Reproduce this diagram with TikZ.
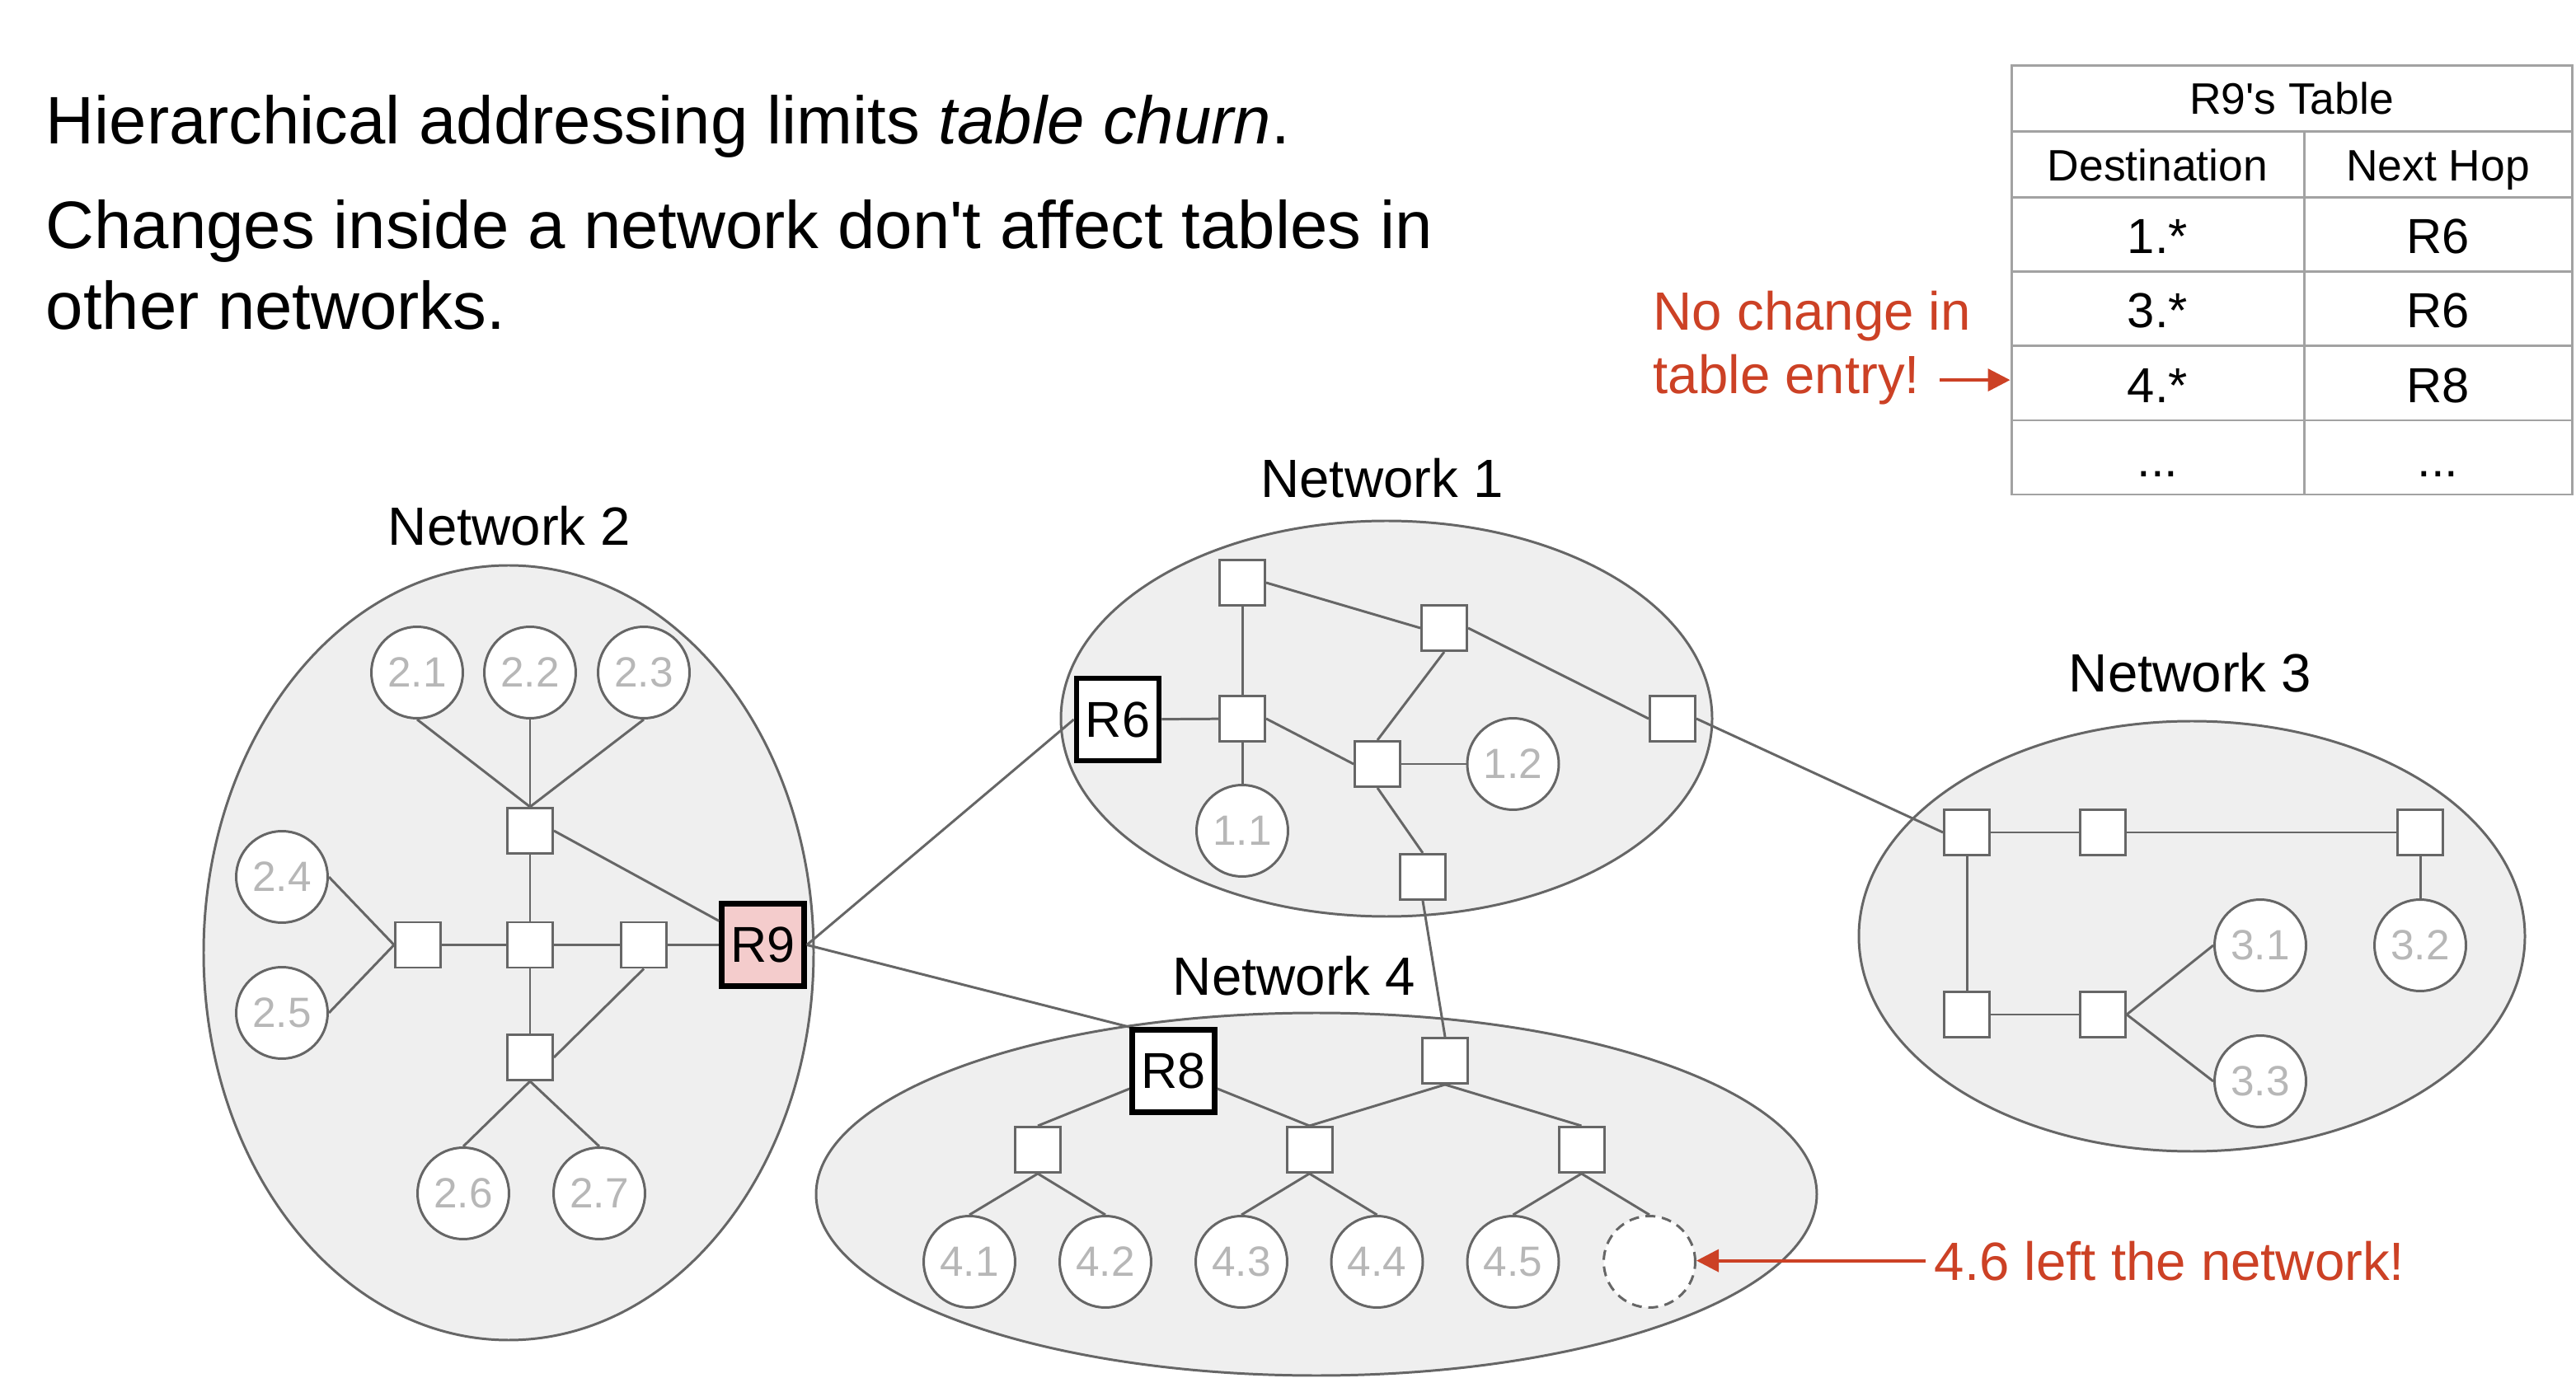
\documentclass[tikz,border=0pt]{standalone}
\usepackage{fontspec}
\setmainfont{Liberation Sans}
\usepackage{tikz}
\usetikzlibrary{positioning,arrows.meta}
\definecolor{netfill}{HTML}{EFEFEF}
\definecolor{wire}{HTML}{666666}
\definecolor{hostgray}{HTML}{B7B7B7}
\definecolor{rpink}{HTML}{F4CCCC}
\definecolor{tabgray}{HTML}{A2A2A2}
\definecolor{notered}{HTML}{CC4125}
\newcommand{\ptsize}[1]{\fontsize{#1}{#1}\selectfont}
\tikzstyle{net} = [draw=wire, fill=netfill, line width=0.85pt]
\tikzstyle{sw} = [draw=wire, fill=white, line width=0.85pt, minimum size=0.55cm, inner sep=0pt]
\tikzstyle{host} = [circle, draw=wire, fill=white, line width=0.85pt, minimum size=1.11cm, inner sep=0pt, text=hostgray, font=\ptsize{14.6}]
\tikzstyle{gone} = [host, dash pattern=on 0.12cm off 0.08cm]
\tikzstyle{router} = [draw=black, fill=white, line width=1.9pt, minimum size=1cm, inner sep=0pt, font=\ptsize{17.4}]
\tikzstyle{link} = [draw=wire, line width=0.85pt]
\tikzstyle{netname} = [anchor=base, inner sep=0pt, font=\ptsize{18.6}]
\tikzstyle{headline} = [anchor=base west, inner sep=0pt, font=\ptsize{23.2}]
\tikzstyle{notetext} = [anchor=base west, inner sep=0pt, text=notered, font=\ptsize{18.6}]
\tikzstyle{note} = [draw=notered, line width=1.1pt, -{Triangle[length=0.27cm,width=0.27cm]}]
\tikzstyle{tabline} = [draw=tabgray, line width=0.85pt]
\tikzstyle{cell} = [anchor=base, inner sep=0pt, font=\ptsize{17}]
\tikzstyle{headcell} = [anchor=base, inner sep=0pt, font=\ptsize{15.2}]

\begin{document}
\begin{tikzpicture}
    \useasboundingbox (0,0) rectangle (31.25,-16.72);
    \node[headline] (t1) at (0.55,-1.75) {Hierarchical addressing limits \textit{table churn}.};
    \node[headline] (t2) at (0.55,-3.015) {Changes inside a network don\textquotesingle t affect tables in};
    \node[headline] (t3) at (0.55,-4.00) {other networks.};

    \filldraw[net] (6.17,-11.56) ellipse (3.70 and 4.70);
    \filldraw[net] (16.82,-8.72) ellipse (3.95 and 2.40);
    \filldraw[net] (26.59,-11.36) ellipse (4.04 and 2.61);
    \filldraw[net] (15.97,-14.49) ellipse (6.07 and 2.20);
    \node[netname] (n2) at (6.18,-6.62) {Network 2};
    \node[netname] (n1) at (16.765,-6.04) {Network 1};
    \node[netname] (n3) at (26.57,-8.395) {Network 3};
    \node[netname] (n4) at (15.70,-12.07) {Network 4};

    \node[host] (h21) at (5.06,-8.16) {2.1};
    \node[host] (h22) at (6.43,-8.16) {2.2};
    \node[host] (h23) at (7.81,-8.16) {2.3};
    \node[host] (h24) at (3.42,-10.64) {2.4};
    \node[host] (h25) at (3.42,-12.29) {2.5};
    \node[host] (h26) at (5.62,-14.48) {2.6};
    \node[host] (h27) at (7.27,-14.48) {2.7};
    \node[sw] (s2t) at (6.43,-10.08) {};
    \node[sw] (s2l) at (5.07,-11.465) {};
    \node[sw] (s2c) at (6.43,-11.465) {};
    \node[sw] (s2r) at (7.81,-11.465) {};
    \node[sw] (s2b) at (6.43,-12.83) {};
    \node[router, fill=rpink] (R9) at (9.255,-11.465) {R9};

    \node[router] (R6) at (13.56,-8.73) {R6};
    \node[sw] (s1a) at (15.07,-7.07) {};
    \node[sw] (s1b) at (17.52,-7.62) {};
    \node[sw] (s1c) at (15.07,-8.72) {};
    \node[sw] (s1d) at (16.71,-9.27) {};
    \node[sw] (s1e) at (20.29,-8.72) {};
    \node[sw] (s1f) at (17.26,-10.64) {};
    \node[host] (h11) at (15.07,-10.08) {1.1};
    \node[host] (h12) at (18.355,-9.27) {1.2};

    \node[sw] (s3a) at (23.86,-10.10) {};
    \node[sw] (s3b) at (25.51,-10.10) {};
    \node[sw] (s3c) at (29.36,-10.10) {};
    \node[sw] (s3d) at (23.86,-12.31) {};
    \node[sw] (s3e) at (25.51,-12.31) {};
    \node[host] (h31) at (27.42,-11.47) {3.1};
    \node[host] (h32) at (29.36,-11.47) {3.2};
    \node[host] (h33) at (27.42,-13.12) {3.3};

    \node[router] (R8) at (14.235,-12.995) {R8};
    \node[sw] (s4t) at (17.53,-12.87) {};
    \node[sw] (s4a) at (12.59,-13.95) {};
    \node[sw] (s4b) at (15.885,-13.95) {};
    \node[sw] (s4c) at (19.185,-13.95) {};
    \node[host] (h41) at (11.76,-15.31) {4.1};
    \node[host] (h42) at (13.41,-15.31) {4.2};
    \node[host] (h43) at (15.06,-15.31) {4.3};
    \node[host] (h44) at (16.705,-15.31) {4.4};
    \node[host] (h45) at (18.355,-15.31) {4.5};
    \node[gone] (h46) at (20.01,-15.31) {};

    \draw[link] (h21.south) -- (s2t.north);
    \draw[link] (h22.south) -- (s2t.north);
    \draw[link] (h23.south) -- (s2t.north);
    \draw[link] (s2t.south) -- (s2c.north);
    \draw[link] (s2t.east) -- (R9);
    \draw[link] (h24.east) -- (s2l.west);
    \draw[link] (h25.east) -- (s2l.west);
    \draw[link] (s2l) -- (s2c);
    \draw[link] (s2c) -- (s2r);
    \draw[link] (s2r) -- (R9);
    \draw[link] (s2c.south) -- (s2b.north);
    \draw[link] (s2r.south) -- (s2b.east);
    \draw[link] (s2b.south) -- (h26.north);
    \draw[link] (s2b.south) -- (h27.north);

    \draw[link] (R9.east) -- (R6.west);
    \draw[link] (R9.east) -- (R8.north west);

    \draw[link] (R6) -- (s1c);
    \draw[link] (s1a) -- (s1c);
    \draw[link] (s1c.south) -- (h11.north);
    \draw[link] (s1a.east) -- (s1b.west);
    \draw[link] (s1b.east) -- (s1e.west);
    \draw[link] (s1b.south) -- (s1d.north);
    \draw[link] (s1c.east) -- (s1d.west);
    \draw[link] (s1d) -- (h12);
    \draw[link] (s1d.south) -- (s1f.north);
    \draw[link] (s1e.east) -- (s3a.west);
    \draw[link] (s1f.south) -- (s4t.north);

    \draw[link] (s3a) -- (s3b);
    \draw[link] (s3b) -- (s3c);
    \draw[link] (s3a) -- (s3d);
    \draw[link] (s3d) -- (s3e);
    \draw[link] (s3c.south) -- (h32.north);
    \draw[link] (s3e.east) -- (h31.west);
    \draw[link] (s3e.east) -- (h33.west);

    \draw[link] (s4a.north) -- (R8);
    \draw[link] (s4b.north) -- (R8);
    \draw[link] (s4t.south) -- (s4b.north);
    \draw[link] (s4t.south) -- (s4c.north);
    \draw[link] (s4a.south) -- (h41.north);
    \draw[link] (s4a.south) -- (h42.north);
    \draw[link] (s4b.south) -- (h43.north);
    \draw[link] (s4b.south) -- (h44.north);
    \draw[link] (s4c.south) -- (h45.north);
    \draw[link] (s4c.south) -- (h46.north);

    \node[tabline, minimum width=6.8cm, minimum height=5.2cm, inner sep=0pt] (tab) at (27.80,-3.40) {};
    \draw[tabline] (24.40,-1.60) -- (31.20,-1.60);
    \draw[tabline] (24.40,-2.40) -- (31.20,-2.40);
    \draw[tabline] (24.40,-3.30) -- (31.20,-3.30);
    \draw[tabline] (24.40,-4.20) -- (31.20,-4.20);
    \draw[tabline] (24.40,-5.10) -- (31.20,-5.10);
    \draw[tabline] (27.95,-1.60) -- (27.95,-6.00);
    \node[headcell] (tname) at (27.80,-1.39) {R9\textquotesingle s Table};
    \node[headcell] (hdst) at (26.175,-2.20) {Destination};
    \node[headcell] (hhop) at (29.575,-2.20) {Next Hop};
    \node[cell] (d1) at (26.175,-3.08) {1.*};
    \node[cell] (r1) at (29.575,-3.08) {R6};
    \node[cell] (d3) at (26.175,-3.975) {3.*};
    \node[cell] (r3) at (29.575,-3.975) {R6};
    \node[cell] (d4) at (26.175,-4.89) {4.*};
    \node[cell] (r4) at (29.575,-4.89) {R8};
    \node[cell] (dx) at (26.175,-5.79) {...};
    \node[cell] (rx) at (29.575,-5.79) {...};

    \node[notetext] (nc1) at (20.05,-4.01) {No change in};
    \node[notetext] (nc2) at (20.05,-4.78) {table entry!};
    \draw[note, shorten <=0.23cm] (nc2.east) -- (nc2.east -| tab.west);
    \node[notetext] (left) at (23.46,-15.53) {4.6 left the network!};
    \draw[note, shorten <=0.1cm] (left.west) -- (left.west -| h46.east);
\end{tikzpicture}
\end{document}
